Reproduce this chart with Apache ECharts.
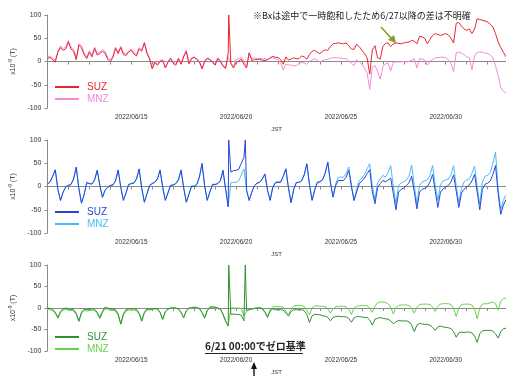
<!DOCTYPE html>
<html>
<head>
<meta charset="utf-8">
<script src="https://cdn.jsdelivr.net/npm/echarts@6/dist/echarts.min.js"></script>
<style>
  html, body { margin: 0; padding: 0; background: #fff; }
  #container { width: 506px; height: 376px; }
</style>
</head>
<body>
<div id="container"></div>
<script>
// time axis in days since 2022/06/11 00:00 JST, one sample every 3 hours
const stepDays = 0.125
const maxDay = 21.875
const tickDays = [0, 1, 2, 3, 4, 5, 6, 7, 8, 9, 10, 11, 12, 13, 14, 15, 16, 17, 18, 19, 20, 21]
const labelDays = [4, 9, 14, 19]
const dateLabels = ['2022/06/15', '2022/06/20', '2022/06/25', '2022/06/30']

// Bx  (x10^-9 T)
const suzBx = [
  6, 9, 4, -1, 20, 30, 24, 27,
  42, 27, 22, 4, 35, 30, 15, 6,
  20, 10, 28, 14, 17, 22, 18, 5,
  -1, 9, 28, 17, 30, 15, 13, 20,
  24, 16, 12, 27, 22, 40, 17, 5,
  -16, -2, -8, 0, 2, -14, -2, 6,
  -3, -8, 6, -6, 10, 22, -5, 6,
  9, 4, -1, -16, 0, 6, 4, -2,
  -8, 6, 0, -10, -15, 18, -5, -14,
  -2, 1, 5, -6, -14, 18, 2, 4,
  4, 5, 3, 2, 4, 8, 11, 9,
  9, 4, -6, 10, 3, 5, 8, 6,
  6, 12, 10, 5, 15, 22, 24, 20,
  17, 22, 25, 24, 32, 38, 39, 40,
  39, 38, 40, 34, 27, 26, 37, 32,
  24, 17, 8, -27, 25, 34, 8, 5,
  32, 39, 40, 32, 38, 40, 39, 38,
  40, 41, 42, 45, 44, 38, 54, 53,
  50, 38, 48, 56, 60, 58, 56, 58,
  60, 57, 50, 40, 82, 84, 76, 70,
  67, 70, 60, 70, 92, 90, 89, 87,
  85, 80, 74, 60, 42, 30, 20, 10
]
const mnzBx = [
  9, 12, 7, 2, 23, 33, 28, 31,
  46, 31, 26, 8, 38, 34, 19, 10,
  23, 14, 31, 18, 20, 26, 22, 9,
  3, 12, 31, 21, 33, 19, 16, 23,
  27, 19, 15, 30, 25, 42, 20, 8,
  -13, 0, -6, 2, 4, -12, 0, 8,
  -1, -6, 8, -4, 12, 24, -3, 8,
  10, 6, 1, -14, 2, 8, 6, 0,
  -6, 8, 2, -8, -13, 10, -2, -10,
  4, 6, 9, 0, -10, 20, 6, 8,
  6, 7, 5, 6, 4, 7, 8, 6,
  4, -4, -18, -6, -7, -8, -9, -9,
  -4, -2, -3, -6, 1, 3, 6, 2,
  -1, 2, 4, 5, 7, 8, 8, 8,
  7, 6, 6, 1, -4, -9, 4, -1,
  -6, -14, -25, -60, -12, -9, -22, -38,
  -12, -5, -3, -20, -2, -1, -1, -1,
  0, -1, 0, 3, 6, -14, 6, 5,
  3, -8, 0, 4, 8, 8, 9, 9,
  8, 4, -5, -22, 19, 20, 18, 15,
  10, 8, -18, 12, 20, 20, 20, 18,
  17, 14, 8, -10, -30, -56, -64, -68
]

// By
const suzBy = [
  5, 10, 22, 36, -6, -30, -12, -1,
  2, 4, 16, 42, -4, -36, -18, 8,
  6, 5, 14, 35, 3, -23, -8, -2,
  2, 3, 12, 35, -2, -30, -14, 4,
  6, 7, 16, 38, -4, -34, -16, 2,
  6, 9, 16, 35, -2, -30, -14, 2,
  3, 6, 14, 35, -3, -34, -17, 0,
  0, 4, 20, 50, 2, -30, -12, 4,
  4, 6, 12, 35, -6, -44, 31, 34,
  35, 37, 50, 63, -8, -30, -12, 2,
  7, 9, 16, 27, -8, -30, -2, 8,
  9, 9, 22, 38, -4, -35, -6, 8,
  9, 12, 25, 49, 4, -30, -8, 8,
  10, 14, 28, 52, 8, -23, 2, 13,
  13, 13, 20, 35, 0, -30, -12, 6,
  12, 18, 28, 36, -12, -37, -2, 6,
  13, 10, 14, 18, -15, -50, -12, -6,
  -3, 2, 8, 22, -12, -48, -12, -6,
  -4, 0, 10, 26, -10, -45, -12, -5,
  -1, 2, 10, 25, -10, -45, -14, -6,
  -1, 3, 12, 26, -12, -50, -6, 5,
  7, 12, 26, 45, -15, -60, -40, -28
]
const mnzBy = [
  5, 9, 21, 35, -7, -30, -12, 0,
  3, 5, 17, 40, -5, -35, -17, 9,
  7, 6, 15, 34, 2, -24, -8, -1,
  3, 4, 13, 36, -1, -29, -13, 5,
  7, 8, 17, 37, -3, -33, -15, 3,
  7, 10, 17, 36, -1, -29, -13, 3,
  4, 7, 15, 36, -2, -33, -16, 2,
  1, 5, 21, 47, 1, -29, -11, 5,
  5, 7, 13, 34, -5, -42, 8, 9,
  9, 12, 25, 38, -8, -30, -12, 2,
  7, 9, 16, 27, -8, -29, -1, 9,
  10, 10, 22, 38, -3, -34, -5, 9,
  9, 13, 26, 48, 5, -29, -6, 10,
  11, 15, 30, 53, 10, -22, 6, 20,
  20, 20, 28, 42, 4, -30, -6, 13,
  18, 26, 38, 49, 0, -28, 8, 16,
  24, 20, 30, 45, 0, -37, 2, 8,
  10, 14, 22, 46, 2, -37, 2, 10,
  12, 14, 24, 45, 4, -30, 4, 12,
  14, 16, 26, 45, 2, -35, -4, 10,
  14, 17, 28, 44, 0, -38, 10, 22,
  24, 30, 50, 74, -5, -50, -30, -18
]

// Bz
const suzBz = [
  0, -1, -3, -10, -22, -8, -2, 0,
  -2, -3, -4, -12, -30, -10, -3, -4,
  -3, -2, -3, -10, -22, -8, 2, 0,
  -2, -3, -4, -14, -37, -14, -4, -2,
  -1, -2, -3, -12, -30, -10, -2, -3,
  -2, -1, -2, -10, -26, -8, -2, 0,
  1, 0, -2, -10, -22, -6, 0, 1,
  2, 1, -1, -10, -22, -6, 2, 3,
  2, 0, -2, -14, -30, -42, -15, -14,
  -15, -15, -17, -30, -6, -4, -2, -1,
  0, 0, -2, -10, -22, -6, -2, -4,
  -4, -4, -5, -12, -19, -8, -4, -4,
  -4, -4, -6, -15, -34, -18, -15, -15,
  -16, -18, -19, -22, -30, -22, -20, -19,
  -20, -20, -21, -24, -33, -23, -20, -20,
  -21, -22, -22, -28, -40, -26, -24, -22,
  -24, -25, -26, -30, -37, -32, -29, -30,
  -30, -30, -32, -40, -55, -40, -36, -37,
  -38, -38, -40, -45, -52, -44, -42, -44,
  -45, -46, -48, -55, -68, -58, -56, -57,
  -56, -56, -58, -65, -80, -60, -53, -52,
  -52, -52, -54, -60, -70, -55, -48, -47
]
const mnzBz = [
  -3, -4, -6, -13, -24, -11, -5, -3,
  -5, -6, -7, -15, -32, -13, -6, -7,
  -6, -5, -6, -13, -25, -11, -2, -3,
  -5, -6, -7, -17, -38, -16, -7, -5,
  -4, -5, -6, -14, -31, -12, -4, -5,
  -3, -2, -3, -11, -27, -9, -3, -1,
  0, -1, -3, -11, -23, -7, -1, 0,
  1, 0, -2, -11, -24, -7, 1, 2,
  1, -1, -3, -15, -32, -40, 0, 0,
  0, 0, -2, -18, -8, -4, -2, -1,
  0, 1, 0, -8, -20, -4, 3, 3,
  3, 3, 2, -8, -15, -2, 5, 6,
  6, 6, 4, -6, -16, 0, 5, 5,
  4, 4, 3, -2, -12, -2, 3, 4,
  4, 4, 3, -4, -15, 0, 4, 5,
  6, 6, 5, 0, -10, 4, 12, 14,
  14, 13, 10, 2, -14, 2, 6, 7,
  7, 7, 6, 0, -12, 2, 8, 9,
  9, 9, 8, 2, -8, 4, 9, 10,
  10, 10, 8, 0, -20, 0, 8, 9,
  9, 9, 7, -2, -25, 0, 9, 10,
  10, 12, 14, 10, -5, 15, 22, 23
]

// short saturated spikes in the SUZ record: [day, value]
const spikesBx = [[8.65, 100]]
const spikesBy = [[8.65, 100], [9.44, 100]]
const spikesBz = [[8.65, 100], [9.44, 100]]

const panels = [
  { key: 'Bx', suz: suzBx, mnz: mnzBx, spikes: spikesBx, top: 15, suzColor: '#e8262e', mnzColor: '#f48ad6' },
  { key: 'By', suz: suzBy, mnz: mnzBy, spikes: spikesBy, top: 140, suzColor: '#2a44d8', mnzColor: '#45bdf2' },
  { key: 'Bz', suz: suzBz, mnz: mnzBz, spikes: spikesBz, top: 265, suzColor: '#2f8f35', mnzColor: '#66d24a' }
]

function toPairs(values, spikes) {
  const pts = values.map((v, i) => [i * stepDays, v])
  return pts.concat(spikes || []).sort((a, b) => a[0] - b[0])
}

const labelFont = 'Liberation Sans, Arial, sans-serif'
const axisGray = '#8a8a8a'

const grid = [], xAxis = [], yAxis = [], series = [], legend = []

panels.forEach((p, i) => {
  grid.push({ left: 41, width: 465, top: p.top, height: 93 })
  xAxis.push({
    type: 'value', gridIndex: i, min: 0, max: maxDay,
    name: 'JST', nameLocation: 'middle', nameGap: 18,
    nameTextStyle: { fontSize: 6, color: '#333', fontFamily: labelFont },
    axisLine: { lineStyle: { color: axisGray } },
    axisTick: { customValues: tickDays, length: 3, lineStyle: { color: axisGray } },
    axisLabel: {
      customValues: labelDays, fontSize: 6.5, color: '#333', margin: 6, fontFamily: labelFont,
      formatter: v => dateLabels[labelDays.indexOf(Math.round(v))] || ''
    },
    splitLine: { show: false }
  })
  yAxis.push({
    type: 'value', gridIndex: i, min: -100, max: 100, interval: 50,
    name: 'x10{sup|-9} (T)', nameLocation: 'middle', nameGap: 17,
    nameTextStyle: {
      fontSize: 7, color: '#333', fontFamily: labelFont,
      rich: { sup: { fontSize: 5, color: '#333', padding: [0, 0, 5, 0] } }
    },
    axisLine: { show: true, lineStyle: { color: axisGray } },
    axisTick: { show: true, length: 3, lineStyle: { color: axisGray } },
    axisLabel: { fontSize: 7, color: '#333', margin: 6, fontFamily: labelFont },
    splitLine: { show: false }
  })
  series.push({
    name: p.key + ' MNZ', type: 'line', xAxisIndex: i, yAxisIndex: i,
    data: toPairs(p.mnz), showSymbol: false, symbol: 'none',
    lineStyle: { width: 1, color: p.mnzColor }, itemStyle: { color: p.mnzColor },
    animation: false, z: 2
  })
  series.push({
    name: p.key + ' SUZ', type: 'line', xAxisIndex: i, yAxisIndex: i,
    data: toPairs(p.suz, p.spikes), showSymbol: false, symbol: 'none',
    lineStyle: { width: 1, color: p.suzColor }, itemStyle: { color: p.suzColor },
    animation: false, z: 3
  })
  legend.push({
    left: 50, top: p.top + 62, orient: 'vertical', selectedMode: false,
    icon: 'rect', itemWidth: 24, itemHeight: 2, itemGap: 2,
    formatter: name => name.split(' ')[1],
    textStyle: { fontSize: 10, fontFamily: labelFont, padding: [0, 0, 0, 3] },
    data: [
      { name: p.key + ' SUZ', textStyle: { color: p.suzColor } },
      { name: p.key + ' MNZ', textStyle: { color: p.mnzColor } }
    ]
  })
})

const jpFont = 'Noto Sans CJK JP, sans-serif'
const graphic = [
  {
    type: 'text', left: 253, top: 11,
    style: { text: '※Bxは途中で一時飽和したため6/27以降の差は不明確', fontSize: 9, fill: '#222', fontFamily: jpFont }
  },
  { type: 'line', shape: { x1: 381, y1: 27, x2: 392, y2: 39 }, style: { stroke: '#8c9a1e', lineWidth: 1.6 } },
  { type: 'polygon', shape: { points: [[396, 43], [388, 40], [394, 35]] }, style: { fill: '#8c9a1e' } },
  {
    type: 'text', left: 205, top: 341,
    style: { text: '6/21 00:00でゼロ基準', fontSize: 10, fontWeight: 'bold', fill: '#222', fontFamily: jpFont }
  },
  { type: 'line', shape: { x1: 205, y1: 353.5, x2: 303, y2: 353.5 }, style: { stroke: '#222', lineWidth: 1 } },
  { type: 'line', shape: { x1: 254, y1: 376, x2: 254, y2: 367 }, style: { stroke: '#111', lineWidth: 1.4 } },
  { type: 'polygon', shape: { points: [[254, 362], [251, 369], [257, 369]] }, style: { fill: '#111' } }
]

const myChart = echarts.init(document.getElementById('container'))
myChart.setOption({
  animation: false,
  grid, xAxis, yAxis, series, legend, graphic
})
</script>
</body>
</html>
